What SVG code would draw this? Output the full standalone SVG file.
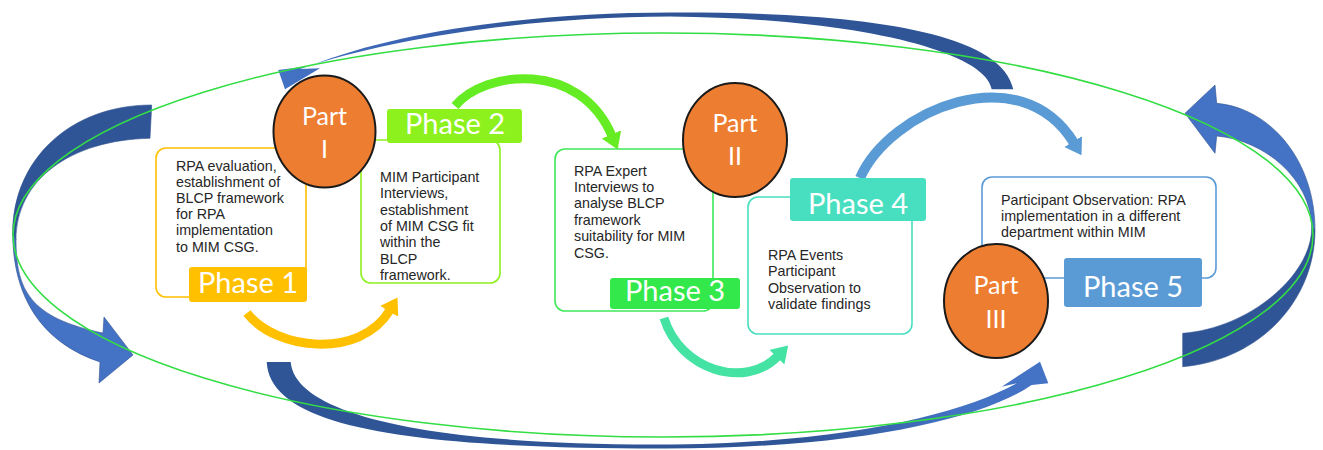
<svg xmlns="http://www.w3.org/2000/svg" width="1323" height="450" viewBox="0 0 1323 450">
<style>
.desc{font-family:"Liberation Sans",Arial,sans-serif;font-size:14.3px;fill:#262626}
.lbl{font-family:Lato,"Open Sans",sans-serif;font-size:29px;fill:#ffffff;text-anchor:middle}
.part{font-family:Lato,"Open Sans",sans-serif;font-size:25px;fill:#ffffff;text-anchor:middle}
.circ{fill:#ed7d31;stroke:#1a1a1a;stroke-width:2}
.box{fill:none;stroke-width:1.6}
.arc{fill:none}
.blk{stroke:#2f528f;stroke-width:0.6}
</style>
<defs>
<marker id="hY" viewBox="0 0 10 13" refX="1" refY="6.5" markerWidth="1.8" markerHeight="2.35" orient="auto"><path d="M0,0 L10,6.5 L0,13 z" fill="#ffc000"/></marker>
<marker id="hG" viewBox="0 0 10 13" refX="1" refY="6.5" markerWidth="1.8" markerHeight="2.35" orient="auto"><path d="M0,0 L10,6.5 L0,13 z" fill="#66ec22"/></marker>
<marker id="hT" viewBox="0 0 10 13" refX="1" refY="6.5" markerWidth="1.8" markerHeight="2.35" orient="auto"><path d="M0,0 L10,6.5 L0,13 z" fill="#44e3a3"/></marker>
<marker id="hB" viewBox="0 0 10 13" refX="1" refY="6.5" markerWidth="1.6" markerHeight="2.1" orient="auto"><path d="M0,0 L10,6.5 L0,13 z" fill="#5b9bd5"/></marker>
<linearGradient id="gTop" gradientUnits="userSpaceOnUse" x1="280" y1="0" x2="1013" y2="0">
<stop offset="0" stop-color="#4472c4"/><stop offset="0.2" stop-color="#3a63b0"/><stop offset="0.35" stop-color="#2f5597"/><stop offset="1" stop-color="#2f5597"/>
</linearGradient>
<linearGradient id="gBot" gradientUnits="userSpaceOnUse" x1="266" y1="0" x2="1048" y2="0">
<stop offset="0" stop-color="#2f5597"/><stop offset="0.68" stop-color="#2f5597"/><stop offset="0.88" stop-color="#4472c4"/><stop offset="1" stop-color="#4472c4"/>
</linearGradient>
</defs>
<rect width="1323" height="450" fill="#ffffff"/>

<g id="connectors">
<path class="blk" fill="#2f5597" d="M151.7,105 C70,105 12.7,160 12.7,233 L16,240 C16,180 70,140 150,138.3 Z"/>
<path class="blk" fill="#4472c4" d="M12.7,233 C12.7,295 40,342 100,362 L99,383 L133,355 L104,317 L103,333 C30,318 16,290 16,240 Z"/>
<path class="blk" fill="#4472c4" d="M1216.7,103.3 C1270,108 1315,160 1315,230 L1311.7,228 C1311.7,180 1265,140 1216.7,136 L1215,153.3 L1185,113.3 L1215,85 Z"/>
<path class="blk" fill="#2f5597" d="M1315,230 C1315,300 1260,360 1182.7,366.7 L1182.7,333.3 C1250,328 1311.7,275 1311.7,228 Z"/>
<path fill="url(#gTop)" d="M310,66 C400,30 540,12.5 670,12.5 C830,12 1000,25 1013.3,89.3 L991.7,89.3 C985,50 850,18 670,16.5 C530,17 390,38 300,69 L320,68.3 L285,89.3 L278.3,70 Z"/>
<path fill="url(#gBot)" d="M266.7,362 C270,430 420,448 660,448.5 C850,449 980,420 1031.7,385 L1048.3,383.3 L1040,361.7 L1001.7,386.7 L1016.7,383.3 C960,415 840,444 660,444.5 C430,445 295,415 290.7,362 Z"/>
<path class="arc" stroke="#ffc000" stroke-width="9" marker-end="url(#hY)" d="M247,313 C275,350 360,360 390,310"/>
<path class="arc" stroke="#66ec22" stroke-width="9" marker-end="url(#hG)" d="M455,106 C485,70 580,60 612,136"/>
<path class="arc" stroke="#44e3a3" stroke-width="9" marker-end="url(#hT)" d="M664,318 C680,370 745,390 778,356"/>
<path class="arc" stroke="#5b9bd5" stroke-width="10" marker-end="url(#hB)" d="M860,178 C890,110 1020,55 1074,143"/>
</g>

<g id="cycle">
<ellipse cx="663" cy="235" rx="650" ry="202" fill="none" stroke="#33dd44" stroke-width="1.6"/>
</g>

<g id="phase1">
<rect class="box" stroke="#ffc000" x="156" y="148" width="150" height="149" rx="10"/>
<text class="desc"><tspan x="176" y="170.5">RPA evaluation,</tspan><tspan x="176" y="186.7">establishment of</tspan><tspan x="176" y="202.9">BLCP framework</tspan><tspan x="176" y="219.1">for RPA</tspan><tspan x="176" y="235.3">implementation</tspan><tspan x="176" y="251.5">to MIM CSG.</tspan></text>
<rect x="189" y="267" width="118" height="35" rx="3" fill="#ffc000"/>
<text class="lbl" x="248" y="292.5">Phase 1</text>
</g>

<g id="phase2">
<rect class="box" stroke="#8df11d" x="361" y="140" width="139" height="143" rx="10"/>
<text class="desc"><tspan x="380" y="182">MIM Participant</tspan><tspan x="380" y="198.3">Interviews,</tspan><tspan x="380" y="214.6">establishment</tspan><tspan x="380" y="230.9">of MIM CSG fit</tspan><tspan x="380" y="247.2">within the</tspan><tspan x="380" y="263.5">BLCP</tspan><tspan x="380" y="279.8">framework.</tspan></text>
<rect x="387" y="109" width="135" height="34" rx="3" fill="#8df11d"/>
<text class="lbl" x="455" y="134">Phase 2</text>
</g>

<g id="phase3">
<rect class="box" stroke="#3ee85a" x="555" y="149" width="158" height="162" rx="10"/>
<text class="desc"><tspan x="574" y="175.5">RPA Expert</tspan><tspan x="574" y="191.9">Interviews to</tspan><tspan x="574" y="208.3">analyse BLCP</tspan><tspan x="574" y="224.7">framework</tspan><tspan x="574" y="241.1">suitability for MIM</tspan><tspan x="574" y="257.5">CSG.</tspan></text>
<rect x="610" y="278" width="130" height="31" rx="3" fill="#33e84a"/>
<text class="lbl" x="675" y="301">Phase 3</text>
</g>

<g id="phase4">
<rect class="box" stroke="#48dfc0" x="748" y="197" width="164" height="137" rx="10"/>
<text class="desc"><tspan x="768" y="260">RPA Events</tspan><tspan x="768" y="276.4">Participant</tspan><tspan x="768" y="292.8">Observation to</tspan><tspan x="768" y="309.2">validate findings</tspan></text>
<rect x="790" y="178" width="136" height="43" rx="3" fill="#48dfc0"/>
<text class="lbl" x="858" y="214">Phase 4</text>
</g>

<g id="phase5">
<rect class="box" stroke="#5b9bd5" x="982" y="177" width="234" height="101" rx="10"/>
<text class="desc"><tspan x="1001" y="205">Participant Observation: RPA</tspan><tspan x="1001" y="221.2">implementation in a different</tspan><tspan x="1001" y="237.4">department within MIM</tspan></text>
<rect x="1064" y="258" width="138" height="49" rx="3" fill="#5b9bd5"/>
<text class="lbl" x="1133" y="296.7">Phase 5</text>
</g>

<g id="part1">
<ellipse class="circ" cx="324.5" cy="131.5" rx="51" ry="56"/>
<text class="part" x="324.5" y="125">Part</text>
<text class="part" x="324.5" y="158">I</text>
</g>

<g id="part2">
<ellipse class="circ" cx="735" cy="140" rx="52" ry="57"/>
<text class="part" x="735" y="132">Part</text>
<text class="part" x="735" y="165">II</text>
</g>

<g id="part3">
<ellipse class="circ" cx="996" cy="301" rx="52" ry="57"/>
<text class="part" x="996" y="294">Part</text>
<text class="part" x="996" y="328">III</text>
</g>
</svg>
